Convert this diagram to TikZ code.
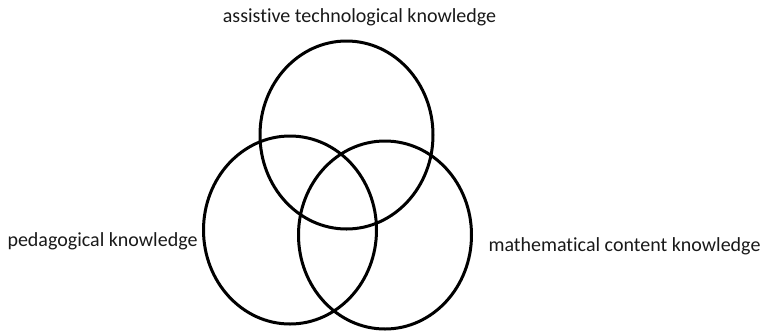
\documentclass[tikz,border=0pt]{standalone}
\usepackage{fontspec}
\setmainfont{Carlito}[Ligatures={NoCommon,NoRare,NoContextual}]
\usetikzlibrary{shapes.geometric}
\begin{document}
\begin{tikzpicture}[x=1pt,y=-1pt,
  ring/.style={draw=black,line width=3pt,ellipse,minimum width=173pt,minimum height=188pt,inner sep=0pt},
  lbl/.style={font=\fontsize{20}{24}\selectfont,text=black!90,inner sep=0pt}]
\useasboundingbox (0,0) rectangle (766,333);
\node[ring] (top) at (346.5,135) {};
\node[ring] (left) at (290,230) {};
\node[ring] (right) at (385,235) {};
\node[lbl] (tl) at (359.5,17) {assistive technological knowledge};
\node[lbl] (ll) at (102.5,241) {pedagogical knowledge};
\node[lbl] (rl) at (624.5,246) {mathematical content knowledge};
\end{tikzpicture}
\end{document}
